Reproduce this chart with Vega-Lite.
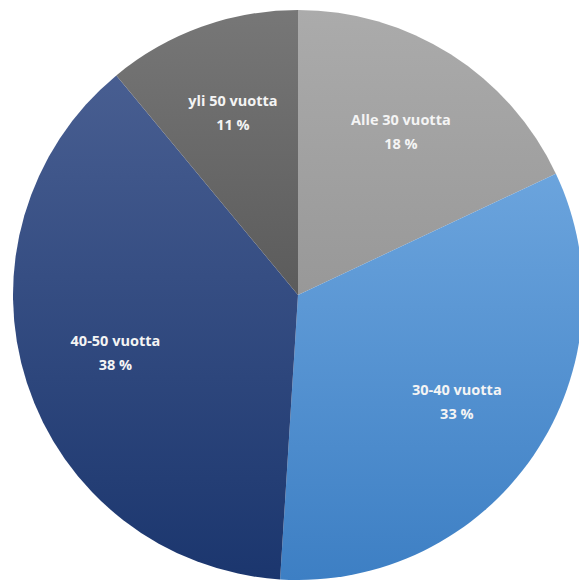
{
  "$schema": "https://vega.github.io/schema/vega-lite/v6.json",
  "width": 562,
  "height": 578,
  "padding": {"left": 17, "top": 6, "right": 0, "bottom": 0},
  "autosize": {"type": "none"},
  "background": "white",
  "view": {"stroke": null},
  "data": {
    "values": [
      {"label": "Alle 30 vuotta", "value": 18},
      {"label": "30-40 vuotta", "value": 33},
      {"label": "40-50 vuotta", "value": 38},
      {"label": "yli 50 vuotta", "value": 11}
    ]
  },
  "transform": [
    {"stack": "value", "groupby": [], "as": ["v0", "v1"]},
    {"calculate": "datum.value + ' %'", "as": "pct"},
    {"calculate": "(datum.v0 + datum.v1) / 2", "as": "vmid"}
  ],
  "encoding": {
    "theta": {"field": "v0", "type": "quantitative", "scale": {"domain": [0, 100]}},
    "theta2": {"field": "v1"}
  },
  "layer": [
    {
      "transform": [{"filter": "datum.label === 'Alle 30 vuotta'"}],
      "mark": {"type": "arc", "outerRadius": 285, "color": {"gradient": "linear", "x1": 0, "y1": 0, "x2": 0, "y2": 1, "stops": [{"offset": 0, "color": "#ababab"}, {"offset": 1, "color": "#989898"}]}}
    },
    {
      "transform": [{"filter": "datum.label === '30-40 vuotta'"}],
      "mark": {"type": "arc", "outerRadius": 285, "color": {"gradient": "linear", "x1": 0, "y1": 0, "x2": 0, "y2": 1, "stops": [{"offset": 0, "color": "#6ba4dd"}, {"offset": 1, "color": "#3d7fc4"}]}}
    },
    {
      "transform": [{"filter": "datum.label === '40-50 vuotta'"}],
      "mark": {"type": "arc", "outerRadius": 285, "color": {"gradient": "linear", "x1": 0, "y1": 0, "x2": 0, "y2": 1, "stops": [{"offset": 0, "color": "#485e91"}, {"offset": 1, "color": "#1b366e"}]}}
    },
    {
      "transform": [{"filter": "datum.label === 'yli 50 vuotta'"}],
      "mark": {"type": "arc", "outerRadius": 285, "color": {"gradient": "linear", "x1": 0, "y1": 0, "x2": 0, "y2": 1, "stops": [{"offset": 0, "color": "#777777"}, {"offset": 1, "color": "#5b5b5b"}]}}
    },
    {
      "mark": {"type": "text", "radius": 192, "dy": -12, "font": "Open Sans", "fontSize": 14.5, "fontWeight": "bold", "color": "#f4f4f4"},
      "encoding": {"theta": {"field": "vmid", "type": "quantitative"}, "theta2": null, "text": {"field": "label"}}
    },
    {
      "mark": {"type": "text", "radius": 192, "dy": 12, "font": "Open Sans", "fontSize": 14.5, "fontWeight": "bold", "color": "#f4f4f4"},
      "encoding": {"theta": {"field": "vmid", "type": "quantitative"}, "theta2": null, "text": {"field": "pct"}}
    }
  ]
}
